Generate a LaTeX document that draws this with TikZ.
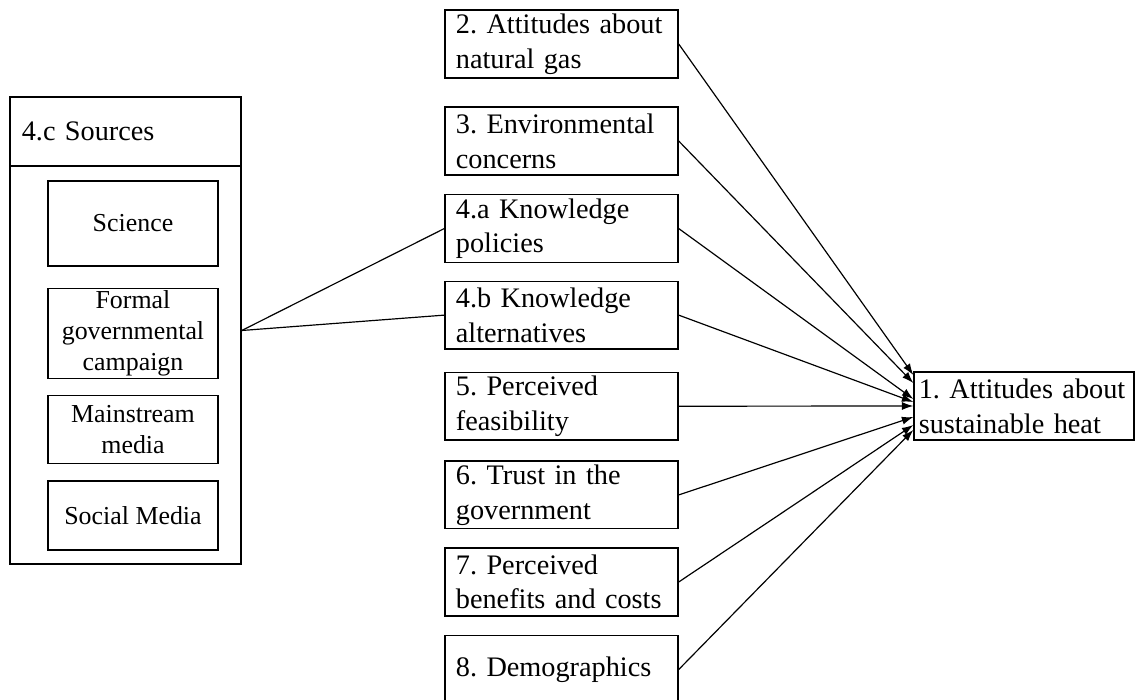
\documentclass[tikz,border=0pt]{standalone}
\usepackage{fontspec}
\setmainfont{Liberation Serif}
\usetikzlibrary{calc, arrows.meta, positioning}
\frenchspacing

\begin{document}
\begin{tikzpicture}[
        x=0.421pt, y=-0.421pt,
        base/.style = {draw, rectangle, line width=0.6pt, inner ysep=0pt},
        factor/.style = {base, minimum width=98.1pt, minimum height=28.5pt, inner xsep=4.6pt, text width=88.9pt, align=left, font=\fontsize{11.9}{14.6}\selectfont},
        source/.style = {base, minimum width=71.6pt, align=center, font=\fontsize{10.9}{13}\selectfont},
        arrow/.style = {-{Latex[length=4.8pt, width=3.4pt]}, line width=0.5pt},
        link/.style = {line width=0.5pt}
    ]
        \useasboundingbox (0,0) rectangle (1135,700);

        % Sources block
        \node (sources) [base, minimum width=97.3pt, minimum height=196.6pt] at (125.5,330.5) {};
        \node (sourcehead) [base, anchor=north, minimum width=97.3pt, minimum height=29pt, inner xsep=5pt, text width=87.3pt, align=left, font=\fontsize{11.9}{14.6}\selectfont] at (sources.north) {4.c Sources};
        \node (science) [source, minimum height=35.8pt] at (133,223.5) {Science};
        \node (formal) [source, minimum height=37.9pt, below=8.8pt of science] {Formal\\governmental\\campaign};
        \node (mainstream) [source, minimum height=28.6pt, below=6.7pt of formal] {Mainstream\\media};
        \node (social) [source, minimum height=29pt, below=6.7pt of mainstream] {Social Media};

        % Factors
        \node (gas) [factor] at (561.5,44) {2. Attitudes about\\natural gas};
        \node (env) [factor, below=11.75pt of gas] {3. Environmental\\concerns};
        \node (kpol) [factor, below=7.75pt of env] {4.a Knowledge\\policies};
        \node (kalt) [factor, below=7.35pt of kpol] {4.b Knowledge\\alternatives};
        \node (feas) [factor, below=9.25pt of kalt] {5. Perceived\\feasibility};
        \node (trust) [factor, below=8.25pt of feas] {6. Trust in the\\government};
        \node (cost) [factor, below=7.55pt of trust] {7. Perceived\\benefits and costs};
        \node (demo) [factor, below=7.75pt of cost] {8. Demographics};

        % Outcome
        \node (heat) [factor, minimum width=92.6pt, inner xsep=2pt, text width=88.6pt] at (1024,406) {1. Attitudes about\\sustainable heat};

        % Connectors
        \draw [link] (sources.east) -- (kpol.west);
        \draw [link] (sources.east) -- (kalt.west);
        \foreach \n/\dy in {gas/-31, env/-23, kpol/-7, kalt/-4, feas/0, trust/11, cost/19, demo/24}
            \draw [arrow] (\n.east) -- ($(heat.west)+(0,\dy)$);

    \end{tikzpicture}
\end{document}
